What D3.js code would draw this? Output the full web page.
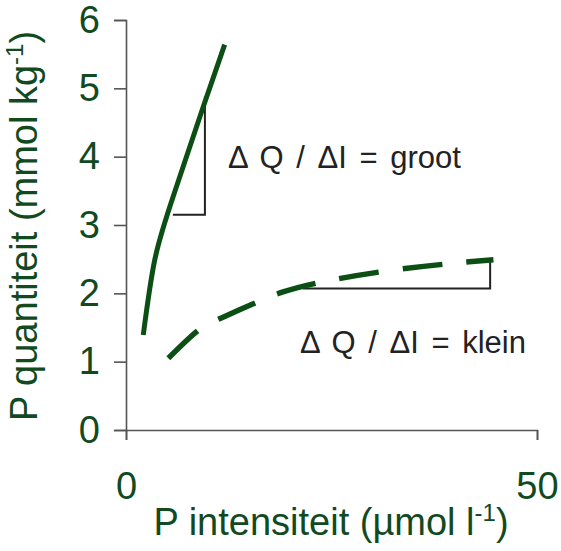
<!DOCTYPE html>
<html lang="nl">
<meta charset="UTF-8">
<script src="https://cdn.jsdelivr.net/npm/d3@7"></script>
<title>P quantiteit vs intensiteit</title>
<style>
  body { margin: 0; background: #fff; }
  text { font-family: "Liberation Sans", Arial, sans-serif; }
</style>
<body>
<svg id="canvas"></svg>
<script>
// values
let steepX = [2.1, 3.5, 5.75, 9.4, 12.0]
let steepY = [1.39, 2.49, 3.42, 4.73, 5.64]

let flatX = [5.15, 8.6, 11.6, 16.1, 19.1, 23.6, 31.3, 39.0, 44.7]
let flatY = [1.05, 1.44, 1.64, 1.88, 2.02, 2.16, 2.32, 2.43, 2.49]

// slope triangles: [x0, y0], [x1, y0], [x1, y1]
let grootTri = [[5.7, 3.15], [9.6, 3.15], [9.6, 4.88]]
let kleinTri = [[21.5, 2.07], [44.3, 2.07], [44.3, 2.49]]

let xTicks = [0, 50]
let yTicks = [0, 1, 2, 3, 4, 5, 6]

let width = 561
let height = 551
let green = '#0c4f14'
let labelColor = '#114a1f'

let svg = d3.select('#canvas').attr('width', width).attr('height', height)

let xScale = d3.scaleLinear().domain([0, 50]).range([126, 537])
let yScale = d3.scaleLinear().domain([0, 6]).range([430, 20])

let xAxis = d3.axisBottom(xScale).tickValues(xTicks).tickFormat(d3.format('d'))
    .tickSize(10).tickPadding(32)
let yAxis = d3.axisLeft(yScale).tickValues(yTicks).tickFormat(d3.format('d'))
    .tickSize(12).tickPadding(14)

let gx = svg.append('g').attr('transform', 'translate(0,' + yScale(0) + ')').call(xAxis)
let gy = svg.append('g').attr('transform', 'translate(' + xScale(0) + ',0)').call(yAxis)

for (let g of [gx, gy]) {
    g.selectAll('path, line').attr('stroke', '#555').attr('stroke-width', 1.6)
    g.selectAll('text').attr('fill', labelColor).attr('font-size', 38)
        .style('font-family', '"Liberation Sans", Arial, sans-serif')
}

let line = d3.line()
    .x(d => xScale(d[0]))
    .y(d => yScale(d[1]))
    .curve(d3.curveNatural)

// triangles first, curves drawn over them
let triLine = d3.line().x(d => xScale(d[0])).y(d => yScale(d[1]))
for (let tri of [grootTri, kleinTri]) {
    svg.append('path')
        .attr('d', triLine(tri))
        .attr('fill', 'none')
        .attr('stroke', '#222')
        .attr('stroke-width', 2)
}

svg.append('path')
    .attr('d', line(steepX.map((x, i) => [x, steepY[i]])))
    .attr('fill', 'none')
    .attr('stroke', green)
    .attr('stroke-width', 5)

svg.append('path')
    .attr('d', line(flatX.map((x, i) => [x, flatY[i]])))
    .attr('fill', 'none')
    .attr('stroke', green)
    .attr('stroke-width', 5.5)
    .attr('stroke-dasharray', '40 24')

// annotations
svg.append('text').attr('x', 228).attr('y', 168)
    .attr('font-size', 31).attr('word-spacing', 4).attr('fill', '#222')
    .text('\u0394 Q / \u0394I = groot')
svg.append('text').attr('x', 300).attr('y', 353)
    .attr('font-size', 31).attr('word-spacing', 4).attr('fill', '#222')
    .text('\u0394 Q / \u0394I = klein')

// axis titles
let xt = svg.append('text').attr('x', 331).attr('y', 535)
    .attr('text-anchor', 'middle').attr('font-size', 38).attr('fill', labelColor)
xt.append('tspan').text('P intensiteit (\u00b5mol l')
xt.append('tspan').attr('font-size', 24).attr('dy', -14).text('-1')
xt.append('tspan').attr('dy', 14).text(')')

let yt = svg.append('text').attr('transform', 'translate(37,226) rotate(-90)')
    .attr('text-anchor', 'middle').attr('font-size', 38).attr('fill', labelColor)
yt.append('tspan').text('P quantiteit (mmol kg')
yt.append('tspan').attr('font-size', 24).attr('dy', -14).text('-1')
yt.append('tspan').attr('dy', 14).text(')')
</script>
</body>
</html>
